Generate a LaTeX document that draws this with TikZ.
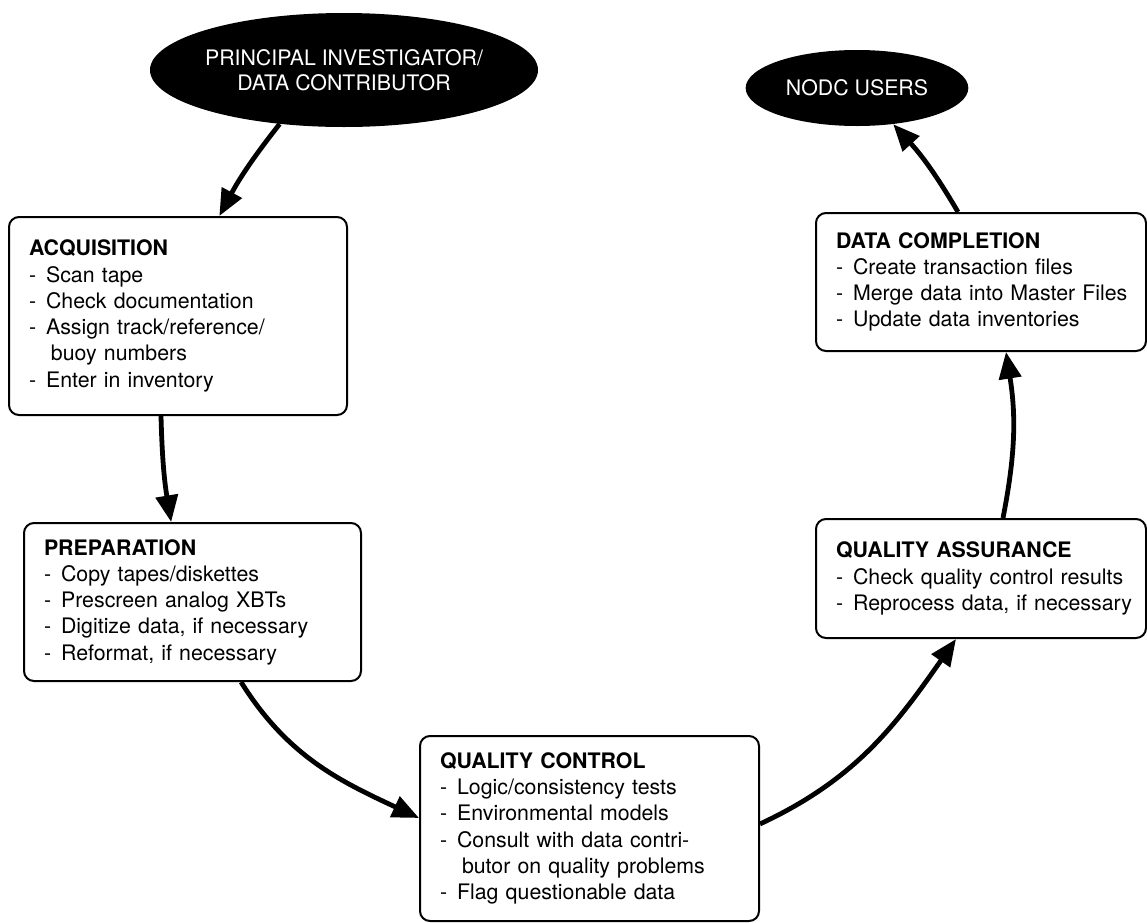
\documentclass[tikz,border=0pt]{standalone}
\usepackage{fontspec}
\setmainfont{TeX Gyre Heros}
\usepackage{xcolor}
\usepackage{tikz}
\usetikzlibrary{arrows.meta, shapes.geometric}
\newcommand{\itm}[1]{\\\mbox{-\hspace{7.5pt}#1}}
\newcommand{\cnt}[1]{\\\mbox{\hspace{16.5pt}#1}}

\begin{document}
\begin{tikzpicture}[x=0.75pt, y=0.75pt,
  stage/.style={draw, line width=1.5pt, rounded corners=7.5pt, anchor=north west, align=left, inner xsep=15pt, inner ysep=0pt, font=\fontsize{16pt}{19.7pt}\selectfont},
  party/.style={ellipse, fill=black, text=white, inner sep=0pt, align=center, font=\fontsize{16pt}{18.75pt}\selectfont},
  flow/.style={line width=3.6pt, -{Triangle[length=20pt, width=16.5pt]}}]
\useasboundingbox (0, 0) rectangle (1147, -922);
\node[party, minimum width=291pt, minimum height=85.5pt, inner xsep=-6pt] (pi) at (344, -70) {PRINCIPAL INVESTIGATOR/\\DATA CONTRIBUTOR};
\node[party, minimum width=167pt, minimum height=57pt] (nodc) at (857, -88) {NODC USERS};
\node[stage, text width=223.5pt, minimum height=148.5pt] (acq) at (8, -216) {\textbf{ACQUISITION}\itm{Scan tape}\itm{Check documentation}\itm{Assign track/reference/}\cnt{buoy numbers}\itm{Enter in inventory}};
\node[stage, text width=222.75pt, minimum height=118.5pt] (prep) at (23, -522) {\textbf{PREPARATION}\itm{Copy tapes/diskettes}\itm{Prescreen analog XBTs}\itm{Digitize data, if necessary}\itm{Reformat, if necessary}};
\node[stage, text width=224.25pt, minimum height=138.75pt] (qc) at (419, -735) {\textbf{QUALITY CONTROL}\itm{Logic/consistency tests}\itm{Environmental models}\itm{Consult with data contri-}\cnt{butor on quality problems}\itm{Flag questionable data}};
\node[stage, text width=217.5pt, minimum height=89.25pt] (qa) at (815, -518) {\textbf{QUALITY ASSURANCE}\itm{Check quality control results}\itm{Reprocess data, if necessary}};
\node[stage, text width=217.5pt, minimum height=103.5pt] (dc) at (815, -212) {\textbf{DATA COMPLETION}\itm{Create transaction files}\itm{Merge data into Master Files}\itm{Update data inventories}};
\draw[flow] (pi.-140) to [bend right=5] ([xshift=31pt]acq.north);
\draw[flow] ([xshift=-12.75pt]acq.south) to [bend right=4] ([xshift=-16pt]prep.north);
\draw[flow] ([xshift=36.4pt]prep.south) to [out=-58, in=155] ([yshift=7.9pt]qc.west);
\draw[flow] ([yshift=3.4pt]qc.east) to [out=25, in=-125] ([xshift=-18.75pt]qa.south);
\draw[flow] ([xshift=16.5pt]qa.north) to [bend right=10] ([xshift=18.75pt]dc.south);
\draw[flow] ([xshift=-17.25pt]dc.north) to [bend right=6] (nodc.-45);
\end{tikzpicture}
\end{document}
